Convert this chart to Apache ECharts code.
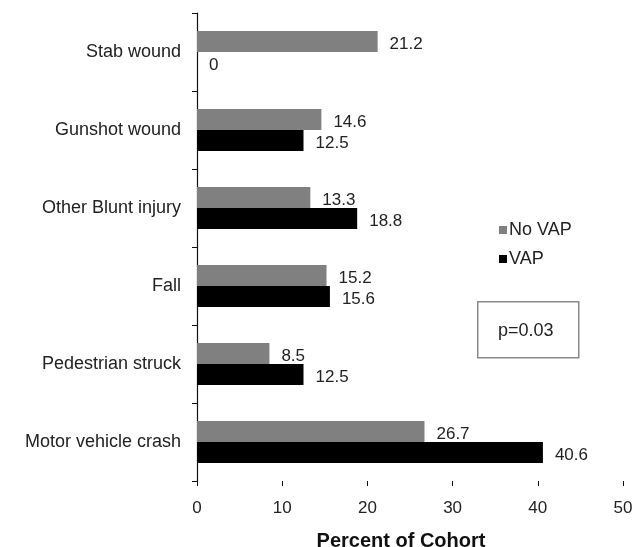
<!DOCTYPE html>
<html>
<head>
<meta charset="utf-8">
<script src="https://cdn.jsdelivr.net/npm/echarts@6/dist/echarts.min.js"></script>
<style>
  html, body { margin: 0; padding: 0; background: #fff; }
  #chart { width: 632px; height: 547px; }
</style>
</head>
<body>
<div id="chart"></div>
<script>
const categories = ['Stab wound', 'Gunshot wound', 'Other Blunt injury', 'Fall', 'Pedestrian struck', 'Motor vehicle crash'];
const noVap = [21.2, 14.6, 13.3, 15.2, 8.5, 26.7];
const vap = [0, 12.5, 18.8, 15.6, 12.5, 40.6];
const xTicks = [0, 10, 20, 30, 40, 50];

const font = 'Liberation Sans, Arial, sans-serif';

const barLabel = {
  show: true,
  position: 'right',
  distance: 12,
  color: '#222',
  fontSize: 17,
  fontFamily: font,
  offset: [0, 3]
};

const option = {
  backgroundColor: '#fff',
  animation: false,
  textStyle: { fontFamily: font },
  grid: { left: 197, right: 9, top: 13, bottom: 66, outerBoundsMode: 'none', containLabel: false },
  legend: {
    orient: 'vertical',
    left: 494,
    top: 216,
    itemWidth: 8,
    itemHeight: 8,
    itemGap: 11,
    icon: 'rect',
    textStyle: { fontSize: 18, color: '#222', fontFamily: font, padding: [0, 0, 0, -3] },
    data: ['No VAP', 'VAP']
  },
  xAxis: {
    type: 'value',
    min: xTicks[0],
    max: xTicks[xTicks.length - 1],
    interval: 10,
    name: 'Percent of Cohort',
    nameLocation: 'middle',
    nameGap: 50,
    nameTextStyle: { fontSize: 20, fontWeight: 'bold', color: '#111', fontFamily: font, padding: [0, 18, 0, 0] },
    axisLine: { lineStyle: { color: '#111', width: 1.2 } },
    axisTick: { show: true, length: 5, lineStyle: { color: '#111' } },
    axisLabel: { fontSize: 17, color: '#222', margin: 19, fontFamily: font },
    splitLine: { show: false }
  },
  yAxis: {
    type: 'category',
    inverse: true,
    data: categories,
    axisLine: { lineStyle: { color: '#111', width: 1.2 } },
    axisTick: { show: true, length: 5, lineStyle: { color: '#111' } },
    axisLabel: { fontSize: 18, color: '#222', margin: 16, fontFamily: font }
  },
  series: [
    {
      name: 'No VAP',
      type: 'bar',
      data: noVap,
      barWidth: 21,
      barGap: '0%',
      itemStyle: { color: '#808080' },
      label: barLabel
    },
    {
      name: 'VAP',
      type: 'bar',
      data: vap,
      barWidth: 21,
      barGap: '0%',
      itemStyle: { color: '#000' },
      label: barLabel
    }
  ],
  graphic: [
    {
      type: 'rect',
      left: 477,
      top: 301,
      shape: { width: 101, height: 56 },
      style: { fill: '#fff', stroke: '#8a8a8a', lineWidth: 1.5 }
    },
    {
      type: 'text',
      left: 498,
      top: 322,
      style: { text: 'p=0.03', fontSize: 18, fill: '#222', fontFamily: font }
    }
  ]
};

const myChart = echarts.init(document.getElementById('chart'));
myChart.setOption(option);
</script>
</body>
</html>
